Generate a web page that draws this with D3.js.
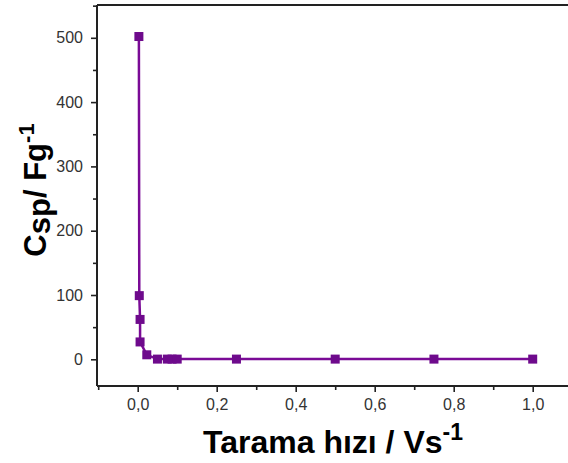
<!DOCTYPE html>
<html><head><meta charset="utf-8">
<script src="https://cdn.jsdelivr.net/npm/d3@7"></script>
<style>body{margin:0;background:#fff}svg{display:block}</style>
</head><body>
<script>
const scanRates = [0.003, 0.004, 0.006, 0.006, 0.023, 0.05, 0.075, 0.087, 0.1, 0.25, 0.5, 0.75, 1.0];
const capacitance = [502, 99, 62, 27, 7, 0.3, 0.3, 0.3, 0.3, 0.3, 0.3, 0.3, 0.3];
const xTicks = [0, 0.2, 0.4, 0.6, 0.8, 1.0];
const xMinor = [-0.1, 0.1, 0.3, 0.5, 0.7, 0.9, 1.1];
const yTicks = [0, 100, 200, 300, 400, 500];
const yMinor = [-50, 50, 150, 250, 350, 450, 550];

const W = 568, H = 463;
const svg = d3.select("body").append("svg").attr("width", W).attr("height", H);
const x = d3.scaleLinear().domain([0, 1]).range([137.7, 532.7]);
const y = d3.scaleLinear().domain([0, 500]).range([359.3, 37.8]);
const plotLeft = 97, plotTop = 5, plotBottom = 386;
const fmt = d => d.toFixed(1).replace(".", ",");
const font = "'Liberation Sans', Arial, sans-serif";

// frame
svg.append("line").attr("x1", plotLeft).attr("x2", W).attr("y1", plotTop).attr("y2", plotTop).attr("stroke", "#222").attr("stroke-width", 2);

const xAxis = svg.append("g").attr("transform", `translate(0,${plotBottom})`)
  .call(d3.axisBottom(x).tickValues(xTicks).tickFormat(fmt).tickSize(6).tickPadding(7));
const xAxisMinor = svg.append("g").attr("transform", `translate(0,${plotBottom})`)
  .call(d3.axisBottom(x).tickValues(xMinor).tickFormat("").tickSize(4));
xAxis.select(".domain").attr("d", `M${plotLeft},0H${W}`);
xAxisMinor.select(".domain").remove();

const yAxis = svg.append("g").attr("transform", `translate(${plotLeft},0)`)
  .call(d3.axisLeft(y).tickValues(yTicks).tickSize(6).tickPadding(8));
const yAxisMinor = svg.append("g").attr("transform", `translate(${plotLeft},0)`)
  .call(d3.axisLeft(y).tickValues(yMinor.filter(v => y(v) <= plotBottom && y(v) >= plotTop)).tickFormat("").tickSize(4));
yAxis.select(".domain").attr("d", `M0,${plotBottom}V${plotTop}`);
yAxisMinor.select(".domain").remove();

svg.selectAll(".domain").attr("stroke", "#222").attr("stroke-width", 2);
svg.selectAll(".tick line").attr("stroke", "#222").attr("stroke-width", 1.6);
svg.selectAll(".tick text").attr("font-family", font).attr("font-size", 16).attr("fill", "#333");

// line and markers
const line = d3.line().x((d, i) => x(scanRates[i])).y(d => y(d));
svg.append("path").datum(capacitance).attr("d", line).attr("fill", "none")
  .attr("stroke", "#7a0a96").attr("stroke-width", 2.5);
svg.selectAll("rect.pt").data(capacitance).join("rect").attr("class", "pt")
  .attr("x", (d, i) => x(scanRates[i]) - 4.5).attr("y", d => y(d) - 4.5)
  .attr("width", 9).attr("height", 9).attr("fill", "#6e0a8c");

// x title
const xt = svg.append("text").attr("x", 333).attr("y", 453).attr("text-anchor", "middle")
  .attr("font-family", font).attr("font-weight", "bold").attr("font-size", 32).attr("fill", "#000");
xt.append("tspan").text("Tarama hızı / Vs");
xt.append("tspan").attr("font-size", 23).attr("dy", -13).text("-1");

// y title
const yt = svg.append("text").attr("transform", "translate(46,190) rotate(-90)").attr("text-anchor", "middle")
  .attr("font-family", font).attr("font-weight", "bold").attr("font-size", 31).attr("fill", "#000");
yt.append("tspan").text("C");
yt.append("tspan").attr("dy", 4).text("sp");
yt.append("tspan").attr("dy", -4).text("/ Fg");
yt.append("tspan").attr("font-size", 22).attr("dy", -12).text("-1");
</script>
</body></html>
